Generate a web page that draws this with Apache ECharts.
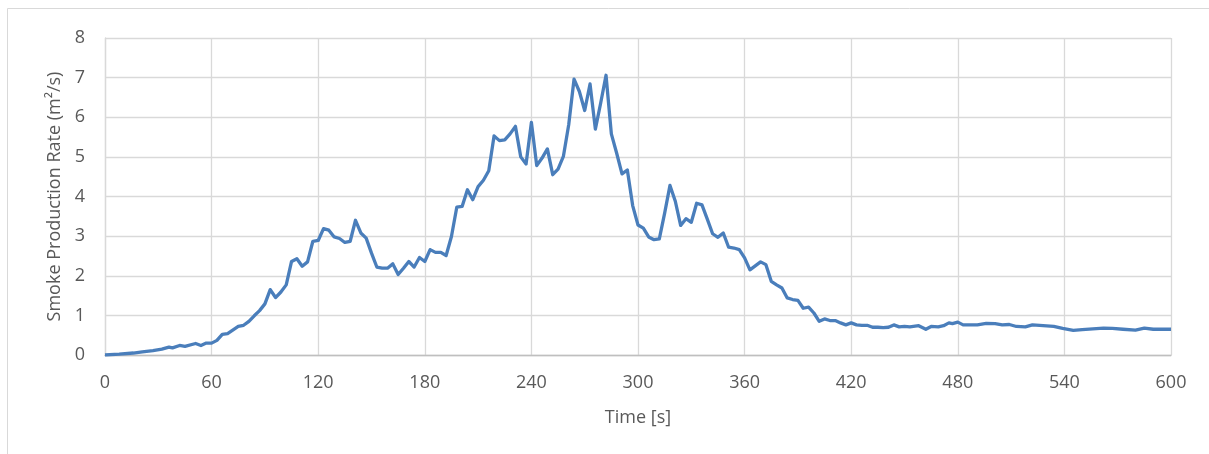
<!DOCTYPE html>
<html>
<head>
<meta charset="utf-8">
<script src="https://cdn.jsdelivr.net/npm/echarts@6/dist/echarts.min.js"></script>
<style>html,body{margin:0;padding:0;background:#fff;}#c{width:1209px;height:454px;}</style>
</head>
<body>
<div id="c"></div>
<script>
const times = [0,8,16,21,27,32,36,38,42,45,51,54,57,60,63,66,69,75,78,81,84,87,90,93,96,99,102,105,108,111,114,117,120,123,126,129,132,135,138,141,144,147,150,153,156,159,162,165,168,171,174,177,180,183,186,189,192,195,198,201,204,207,210,213,216,219,222,225,228,231,234,237,240,243,246,249,252,255,258,261,264,267,270,273,276,279,282,285,288,291,294,297,300,303,306,309,312,315,318,321,324,327,330,333,336,339,342,345,348,351,354,357,360,363,366,369,372,375,378,381,384,387,390,393,396,399,402,405,408,411,414,417,420,423,426,429,432,435,438,441,444,447,450,453,458,462,465,469,472,475,477,480,483,487,491,496,501,505,509,513,518,522,528,534,539,545,550,556,562,567,573,580,585,590,595,600];
const smokeRate = [0.00,0.02,0.05,0.08,0.11,0.15,0.20,0.18,0.24,0.22,0.29,0.24,0.30,0.30,0.37,0.52,0.54,0.72,0.75,0.85,0.99,1.12,1.29,1.65,1.45,1.59,1.77,2.36,2.43,2.24,2.35,2.87,2.89,3.19,3.15,2.98,2.94,2.84,2.87,3.40,3.08,2.95,2.57,2.22,2.19,2.19,2.30,2.03,2.19,2.36,2.22,2.46,2.36,2.66,2.59,2.59,2.51,2.99,3.73,3.75,4.17,3.92,4.25,4.41,4.65,5.53,5.41,5.43,5.58,5.77,5.00,4.82,5.87,4.78,4.97,5.20,4.55,4.69,5.01,5.81,6.96,6.65,6.17,6.84,5.70,6.36,7.06,5.58,5.09,4.57,4.67,3.77,3.28,3.20,2.98,2.91,2.93,3.58,4.28,3.88,3.27,3.44,3.35,3.83,3.79,3.43,3.06,2.97,3.08,2.72,2.70,2.66,2.45,2.15,2.25,2.35,2.28,1.86,1.77,1.69,1.44,1.40,1.38,1.18,1.21,1.06,0.85,0.91,0.87,0.87,0.81,0.76,0.81,0.76,0.75,0.75,0.70,0.70,0.69,0.70,0.76,0.71,0.72,0.71,0.74,0.65,0.72,0.71,0.74,0.81,0.79,0.83,0.76,0.76,0.76,0.80,0.79,0.76,0.77,0.72,0.71,0.76,0.74,0.72,0.67,0.62,0.64,0.66,0.68,0.67,0.65,0.63,0.68,0.65,0.65,0.65];
const xTicks = [0,60,120,180,240,300,360,420,480,540,600];
const yTicks = [0,1,2,3,4,5,6,7,8];
const xTitle = 'Time [s]';
const yTitle = 'Smoke Production Rate (m²/s)';

const FONT = 'Open Sans';
const TXT = '#595959';
const chart = echarts.init(document.getElementById('c'), null, {renderer:'canvas'});
chart.setOption({
  animation: false,
  backgroundColor: '#fff',
  graphic: [{
    type: 'rect', silent: true,
    shape: {x: 7.5, y: 8.5, width: 1400, height: 600},
    style: {fill: 'none', stroke: '#d9d9d9', lineWidth: 1}
  }],
  grid: {left: 105, right: 38, top: 38, bottom: 99},
  xAxis: {
    type: 'value', min: xTicks[0], max: xTicks[xTicks.length-1], interval: 60,
    name: xTitle, nameLocation: 'middle', nameGap: 54,
    nameTextStyle: {color: TXT, fontFamily: FONT, fontSize: 18},
    axisLine: {show: true, lineStyle: {color: '#bfbfbf', width: 1.3}},
    axisTick: {show: false},
    axisLabel: {color: TXT, fontFamily: FONT, fontSize: 18, margin: 19},
    splitLine: {show: true, lineStyle: {color: '#d9d9d9', width: 1.3}}
  },
  yAxis: {
    type: 'value', min: yTicks[0], max: yTicks[yTicks.length-1], interval: 1,
    name: yTitle, nameLocation: 'middle', nameGap: 41,
    nameTextStyle: {color: TXT, fontFamily: FONT, fontSize: 18},
    axisLine: {show: true, lineStyle: {color: '#d9d9d9', width: 1.3}},
    axisTick: {show: false},
    axisLabel: {color: TXT, fontFamily: FONT, fontSize: 18, margin: 20},
    splitLine: {show: true, lineStyle: {color: '#d9d9d9', width: 1.3}}
  },
  series: [{
    type: 'line',
    data: times.map((t, i) => [t, smokeRate[i]]),
    showSymbol: false,
    lineStyle: {color: '#4a7ebb', width: 3.3, join: 'round'},
    itemStyle: {color: '#4a7ebb'}
  }]
});
</script>
</body>
</html>
